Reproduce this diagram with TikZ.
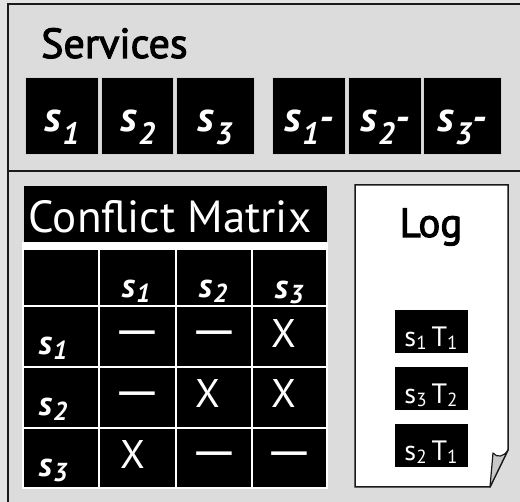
\documentclass[tikz,border=0pt]{standalone}
\usepackage{graphicx}
\usepackage{fontspec}
\setmainfont{PT Sans}
\newfontfamily\semib{PT Sans}[FakeBold=2.5]
\definecolor{outerbg}{HTML}{E4E4E4}
\definecolor{innerbg}{HTML}{DCDCDC}
\definecolor{framec}{HTML}{1A1A1A}
\definecolor{foldc}{HTML}{C8C8C8}
\newcommand\svlab[2]{{\bfseries\itshape\fontsize{42}{42}\selectfont s\kern1pt\raisebox{-13pt}{\fontsize{31}{31}\selectfont #1}#2}}
\newcommand\mxlab[1]{{\bfseries\itshape\fontsize{34}{34}\selectfont s\kern1pt\raisebox{-5pt}{\fontsize{26}{26}\selectfont #1}}}
\newcommand\lglab[2]{{\fontsize{28}{28}\selectfont s\raisebox{-3pt}{\fontsize{19}{19}\selectfont #1}\kern5pt T\raisebox{-3pt}{\fontsize{19}{19}\selectfont #2}}}
\newcommand\xmark{{\fontsize{40}{40}\selectfont X}}
\newcommand\dmark{\scalebox{1.9}[1.5]{\fontsize{32}{32}\selectfont —}}
\begin{document}
\begin{tikzpicture}[x=1pt,y=-1pt,
  svcbox/.style={fill=black,draw=gray!35,line width=0.8pt,minimum width=#1,minimum height=77pt,inner sep=0pt},
  wtxt/.style={text=white,inner sep=0pt,anchor=base},
  logbox/.style={fill=black,inner sep=0pt,minimum width=73pt,minimum height=43pt},
]
\useasboundingbox (0,0) rectangle (520,502);
\fill[outerbg] (0,0) rectangle (520,502);
\fill[innerbg] (8,4) rectangle (524,506);
\draw[framec,line width=2pt] (524,4) -- (8,4) -- (8,506);
\draw[framec,line width=2pt] (8,171) -- (524,171);
% Services
\node[anchor=base west,inner sep=0pt,font=\semib\fontsize{42}{42}\selectfont] (svctitle) at (41,58) {Services};
\node[svcbox=73pt] (b1) at (61.5,115.5) {};
\node[svcbox=72pt] (b2) at (137,115.5) {};
\node[svcbox=78pt] (b3) at (215,115.5) {};
\node[svcbox=73pt] (b4) at (308.5,115.5) {};
\node[svcbox=73pt] (b5) at (384.5,115.5) {};
\node[svcbox=78pt] (b6) at (462,115.5) {};
\node[wtxt] (t1) at (62,132) {\svlab{1}{}};
\node[wtxt] (t2) at (138,132) {\svlab{2}{}};
\node[wtxt] (t3) at (215,132) {\svlab{3}{}};
\node[wtxt] (t4) at (309,132) {\svlab{1}{-}};
\node[wtxt] (t5) at (385,132) {\svlab{2}{-}};
\node[wtxt] (t6) at (462,132) {\svlab{3}{-}};
% Conflict matrix
\fill[black] (24,186) rectangle (327,242);
\node[wtxt,font=\fontsize{45}{45}\selectfont] (cmtitle) at (170,233) {Conflict Matrix};
\fill[white] (22,242) rectangle (328,489);
\foreach \xa/\xb in {24/98,100/175,177/251,253/326}{
  \foreach \ya/\yb in {250/305,307/366,368/427,429/487}{
    \fill[black] (\xa,\ya) rectangle (\xb,\yb);
  }
}
\node[wtxt] (h1) at (136,298) {\mxlab{1}};
\node[wtxt] (h2) at (213,298) {\mxlab{2}};
\node[wtxt] (h3) at (289,299) {\mxlab{3}};
\node[wtxt] (r1) at (53,355) {\mxlab{1}};
\node[wtxt] (r2) at (53,416) {\mxlab{2}};
\node[wtxt] (r3) at (53,477) {\mxlab{3}};
\node[wtxt] (c11) at (137.5,347) {\dmark};
\node[wtxt] (c12) at (214,347) {\dmark};
\node[wtxt] (c13) at (284,348) {\xmark};
\node[wtxt] (c21) at (137.5,408) {\dmark};
\node[wtxt] (c22) at (208,408) {\xmark};
\node[wtxt] (c23) at (284,408) {\xmark};
\node[wtxt] (c31) at (133,469) {\xmark};
\node[wtxt] (c32) at (214,468) {\dmark};
\node[wtxt] (c33) at (289.5,468) {\dmark};
% Log
\draw[fill=white,draw=framec,line width=1.5pt,line join=miter] (355,185) -- (508,185) -- (508,450) -- (490,487) -- (355,487) -- cycle;
\draw[fill=foldc,draw=framec,line width=1.2pt,line join=round] (490,487) -- (493,453) .. controls (497,458) and (504,457) .. (508,450) -- cycle;
\node[anchor=base,inner sep=0pt,font=\semib\fontsize{41}{41}\selectfont] (logtitle) at (431,237) {Log};
\node[logbox] (l1) at (431.5,332) {};
\node[logbox] (l2) at (431.5,388.5) {};
\node[logbox] (l3) at (431.5,445.5) {};
\node[wtxt] (lt1) at (431,347) {\lglab{1}{1}};
\node[wtxt] (lt2) at (431,404) {\lglab{3}{2}};
\node[wtxt] (lt3) at (431,461) {\lglab{2}{1}};
\end{tikzpicture}
\end{document}
